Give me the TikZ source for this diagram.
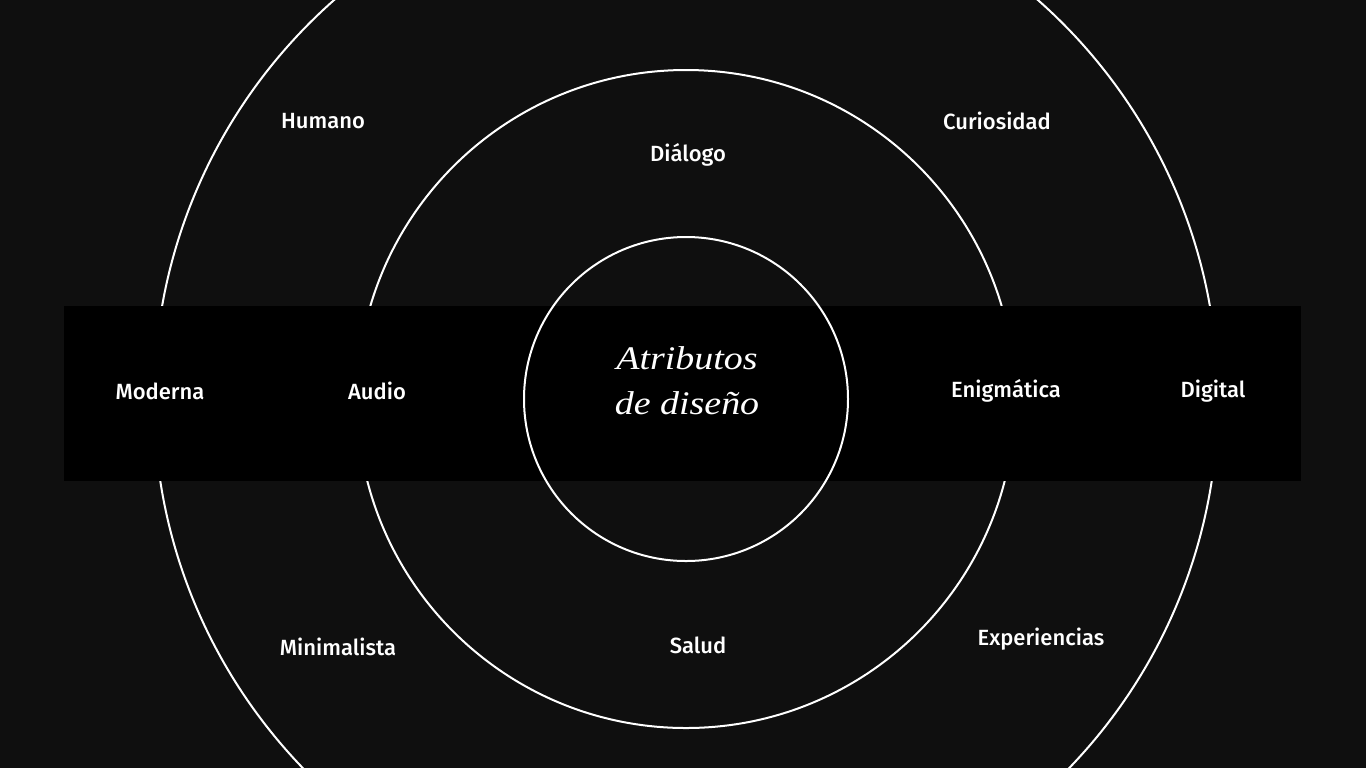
\documentclass[tikz,border=0pt]{standalone}
\usepackage{fontspec}
\setmainfont{Liberation Serif}
\newfontfamily\labelfont{Fira Sans}[UprightFont=* Medium]
\newfontfamily\titlefont{Liberation Serif}[FakeStretch=1.15]
\usepackage{xcolor}
\usetikzlibrary{positioning}
\definecolor{bgdark}{HTML}{0F0F0F}
\definecolor{banddark}{HTML}{000000}

\begin{document}
\begin{tikzpicture}[
        x=0.5pt, y=-0.5pt,
        ring/.style={
            draw=white,
            line width=1pt
        },
        attr/.style={
            text=white,
            font=\labelfont\fontsize{11}{13}\selectfont,
            inner sep=0pt
        },
        title/.style={
            text=white,
            align=center,
            font=\titlefont\itshape\fontsize{16.5}{22.5}\selectfont,
            inner sep=0pt
        }
    ]

    % fondo
    \fill[bgdark] (0,0) rectangle (1366,768);
    \useasboundingbox (0,0) rectangle (1366,768);

    % anillos exteriores
    \coordinate (c) at (686,399);
    \draw[ring] (c) circle[radius=532];
    \draw[ring] (c) circle[radius=329];

    % banda
    \fill[banddark] (64,306) rectangle (1301,481);

    % anillo interior
    \draw[ring] (c) circle[radius=162];

    % textos
    \node[title] (center) at (687,381) {Atributos\\de diseño};

    \node[attr] (humano) at (323,121) {Humano};
    \node[attr] (curiosidad) at (997,121) {Curiosidad};
    \node[attr] (dialogo) at (688,155) {Diálogo};

    \node[attr] (moderna) at (160,391) {Moderna};
    \node[attr] (audio) at (377,391) {Audio};
    \node[attr] (enigmatica) at (1006,391) {Enigmática};
    \node[attr] (digital) at (1213,391) {Digital};

    \node[attr] (minimalista) at (338,647) {Minimalista};
    \node[attr] (salud) at (698,645) {Salud};
    \node[attr] (experiencias) at (1041,639) {Experiencias};

\end{tikzpicture}
\end{document}
